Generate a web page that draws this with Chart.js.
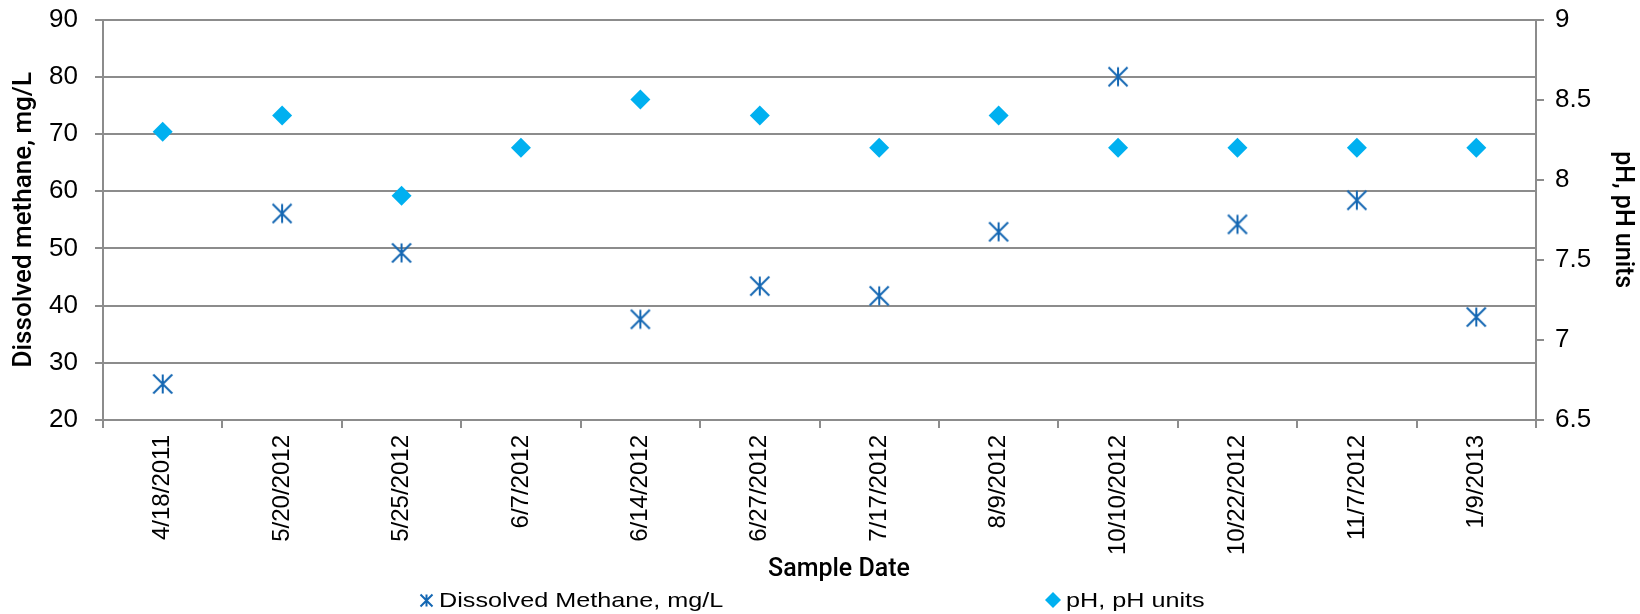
<!DOCTYPE html>
<html>
<head>
<meta charset="utf-8">
<script src="https://cdn.jsdelivr.net/npm/chart.js@4.4.1/dist/chart.umd.min.js"></script>
<style>
  html, body { margin: 0; padding: 0; background: #fff; overflow: hidden; }
  #wrap { position: relative; width: 1640px; height: 614px; }
  #overlay { position: absolute; left: 0; top: 0; width: 1640px; height: 614px; pointer-events: none; }
  .item { position: absolute; top: 586px; height: 28px; display: flex; align-items: center; }
  .item span { font-family: "Liberation Sans", Arial, sans-serif; font-size: 21px; color: #000;
               display: inline-block; transform: scaleX(1.2); transform-origin: left center; white-space: nowrap; }
  .item img { margin-right: 5px; }
  #xtitle { position: absolute; left: 639px; width: 400px; top: 553px; height: 30px; line-height: 30px; text-align: center;
            font-family: Roboto, "Liberation Sans", sans-serif; font-weight: 500; font-size: 25px; color: #000; }
</style>
</head>
<body>
<div id="wrap">
  <canvas id="c" width="1640" height="614"></canvas>
  <div id="overlay"><div id="xtitle"></div></div>
</div>
<script>
// ---- data ----
const sampleDates = ['4/18/2011','5/20/2012','5/25/2012','6/7/2012','6/14/2012','6/27/2012',
                     '7/17/2012','8/9/2012','10/10/2012','10/22/2012','11/7/2012','1/9/2013'];
const methane = [26.3, 56.1, 49.2, null, 37.6, 43.4, 41.7, 52.9, 80.0, 54.2, 58.4, 38.0];
const phValues = [8.3, 8.4, 7.9, 8.2, 8.5, 8.4, 8.2, 8.4, 8.2, 8.2, 8.2, 8.2];
const seriesNames = ['Dissolved Methane, mg/L', 'pH, pH units'];
const leftTitle = 'Dissolved methane, mg/L';
const rightTitle = 'pH, pH units';
const xTitle = 'Sample Date';

const METHANE_COLOR = '#1467b3';
const PH_COLOR = '#00b0f0';
const GRID = '#8c8c8c';

function starCanvas(size, lw) {
  const c = document.createElement('canvas');
  c.width = size; c.height = size;
  const g = c.getContext('2d');
  g.strokeStyle = METHANE_COLOR; g.lineWidth = lw; g.lineCap = 'butt';
  const m = lw / 2 + 0.5, s = size;
  g.beginPath();
  g.moveTo(s / 2, m); g.lineTo(s / 2, s - m);
  g.moveTo(m, m); g.lineTo(s - m, s - m);
  g.moveTo(s - m, m); g.lineTo(m, s - m);
  g.stroke();
  return c;
}
const star = starCanvas(22, 2);

const font = (size, weight, family) => ({ family: family || '"Liberation Sans", Arial, sans-serif', size: size, weight: weight || 'normal' });
const noPad = s => { s.paddingTop = 0; s.paddingBottom = 0; };

new Chart(document.getElementById('c'), {
  type: 'line',
  data: {
    labels: sampleDates,
    datasets: [
      { label: seriesNames[0], data: methane, yAxisID: 'y', showLine: false,
        pointStyle: star, pointRadius: 11, borderColor: METHANE_COLOR, backgroundColor: METHANE_COLOR, order: 1 },
      { label: seriesNames[1], data: phValues, yAxisID: 'y1', showLine: false,
        pointStyle: 'rectRot', pointRadius: 10, pointBorderWidth: 0,
        borderColor: PH_COLOR, backgroundColor: PH_COLOR, order: 2 }
    ]
  },
  options: {
    responsive: false,
    devicePixelRatio: 1,
    animation: false,
    layout: { padding: { top: 19.5, bottom: 29, left: 0, right: 0 } },
    plugins: { legend: { display: false }, tooltip: { enabled: false } },
    scales: {
      x: {
        type: 'category',
        offset: true,
        grid: { offset: true, drawOnChartArea: false, drawTicks: true, tickLength: 8, color: GRID, lineWidth: 2 },
        border: { color: GRID, width: 2 },
        ticks: { minRotation: 90, maxRotation: 90, autoSkip: false, padding: 7, color: '#000', font: font(24) },
        title: { display: false },
        afterFit: s => { s.height = 165; s.paddingLeft = 0; s.paddingRight = 0; }
      },
      y: {
        position: 'left',
        min: 20, max: 90,
        ticks: { stepSize: 10, padding: 17, color: '#000', font: font(26) },
        grid: { color: GRID, lineWidth: 2, tickLength: 8 },
        border: { color: GRID, width: 2 },
        title: { display: true, text: leftTitle, color: '#000', font: font(26, 500, 'Roboto'), padding: { top: 9, bottom: 0 } },
        afterFit: s => { s.width = 103; noPad(s); }
      },
      y1: {
        position: 'right',
        min: 6.5, max: 9,
        ticks: { stepSize: 0.5, padding: 11, color: '#000', font: font(26), callback: v => String(Math.round(v * 10) / 10) },
        grid: { drawOnChartArea: false, color: GRID, lineWidth: 2, tickLength: 8 },
        border: { color: GRID, width: 2 },
        title: { display: true, text: rightTitle, color: '#000', font: font(25, 500, 'Roboto'), padding: { top: 3, bottom: 0 } },
        afterFit: s => { s.width = 104; noPad(s); }
      }
    }
  }
});

// HTML axis title and legend
(function () {
  const ov = document.getElementById('overlay');
  document.getElementById('xtitle').textContent = xTitle;

  const sm = starCanvas(15, 2);
  const it1 = document.createElement('div'); it1.className = 'item'; it1.style.left = '419px';
  const im1 = document.createElement('img'); im1.src = sm.toDataURL(); im1.width = 15; im1.height = 15;
  const t1 = document.createElement('span'); t1.textContent = seriesNames[0];
  it1.appendChild(im1); it1.appendChild(t1); ov.appendChild(it1);

  const dc = document.createElement('canvas'); dc.width = 16; dc.height = 16;
  const g = dc.getContext('2d'); g.fillStyle = PH_COLOR; g.beginPath();
  g.moveTo(8, 0); g.lineTo(16, 8); g.lineTo(8, 16); g.lineTo(0, 8); g.closePath(); g.fill();
  const it2 = document.createElement('div'); it2.className = 'item'; it2.style.left = '1045px';
  const im2 = document.createElement('img'); im2.src = dc.toDataURL(); im2.width = 16; im2.height = 16;
  const t2 = document.createElement('span'); t2.textContent = seriesNames[1];
  it2.appendChild(im2); it2.appendChild(t2); ov.appendChild(it2);
})();
</script>
</body>
</html>
